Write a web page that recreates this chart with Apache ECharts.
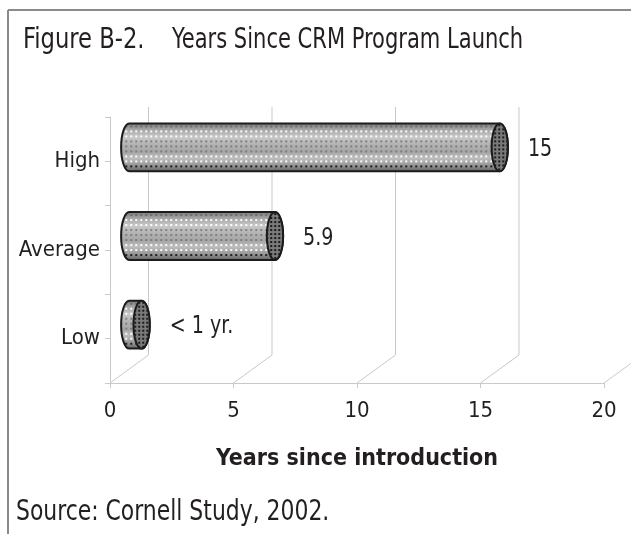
<!DOCTYPE html>
<html>
<head>
<meta charset="utf-8">
<script src="https://cdn.jsdelivr.net/npm/echarts@6/dist/echarts.min.js"></script>
<style>
  html, body { margin: 0; padding: 0; background: #ffffff; }
  #chart { width: 631px; height: 534px; }
</style>
</head>
<body>
<div id="chart"></div>
<script>
// Chart data
const categories = ['High', 'Average', 'Low'];
const years = [15, 5.9, 0.5];
const valueLabels = ['15', '5.9', '< 1 yr.'];
const tickValues = [0, 5, 10, 15, 20];

const FONT = "'DejaVu Sans Condensed', 'Liberation Sans Narrow', 'Liberation Sans', sans-serif";
const INK = '#231f20';
const GRID_LINE = '#c9c9c9';
// 3D depth of the plot box (back plane offset from the front plane)
const DEPTH_X = 38.5, DEPTH_Y = -28;
const WALL_TOP_SHIFT = -10;
// horizontal squeeze for free-standing text, the typeface is a narrow one
const NARROW = 0.85;

// Dotted texture for the cylinder body, one tile spans the full bar height
const bodyTileCache = {};
function bodyTile(h) {
  h = Math.max(4, Math.round(h));
  if (bodyTileCache[h]) return bodyTileCache[h];
  const c = document.createElement('canvas');
  c.width = 5; c.height = h;
  const g = c.getContext('2d');
  for (let y = 2; y < h - 2; y += 5) {
    const f = y / h;
    let col;
    if (f < 0.14) col = 'rgba(100,100,100,0.8)';
    else if (f < 0.34) col = 'rgba(255,255,255,0.95)';
    else if (f < 0.6) col = 'rgba(110,110,110,0.75)';
    else if (f < 0.8) col = 'rgba(255,255,255,0.95)';
    else col = 'rgba(20,20,20,0.9)';
    g.fillStyle = col;
    g.fillRect(1, y, 2, 2);
  }
  bodyTileCache[h] = c;
  return c;
}
// Dark dotted texture for the end caps
const capTile = (function () {
  const c = document.createElement('canvas');
  c.width = 4; c.height = 4;
  const g = c.getContext('2d');
  g.fillStyle = 'rgba(15,15,15,0.9)';
  g.fillRect(1, 1, 2, 2);
  return c;
})();

const bodyGradient = new echarts.graphic.LinearGradient(0, 0, 0, 1, [
  { offset: 0, color: '#7a7a7a' },
  { offset: 0.12, color: '#a3a3a3' },
  { offset: 0.28, color: '#c8c8c8' },
  { offset: 0.45, color: '#b2b2b2' },
  { offset: 0.6, color: '#a6a6a6' },
  { offset: 0.72, color: '#bebebe' },
  { offset: 0.88, color: '#959595' },
  { offset: 1, color: '#656565' }
]);

// Cylinders drawn half-way into the depth of the plot box
function renderCylinder(params, api) {
  const v = api.value(0);
  const ci = api.value(1);
  const pStart = api.coord([0, ci]);
  const pEnd = api.coord([v, ci]);
  const band = api.size([0, 1])[1];
  const r = band * 0.27;
  const rx = r * 0.34;
  const ox = DEPTH_X * 0.5, oy = DEPTH_Y * 0.5;
  const x0 = pStart[0] + ox;
  const x1 = pEnd[0] + ox;
  const cy = pStart[1] + oy;
  const L = x1 - x0;
  const H = 2 * r;
  // local coordinates: origin at left-top of the body
  const body = 'M0,0 L' + L + ',0 A' + rx + ',' + H / 2 + ' 0 0 1 ' + L + ',' + H +
    ' L0,' + H + ' A' + rx + ',' + H / 2 + ' 0 0 1 0,0 Z';
  return {
    type: 'group',
    x: x0,
    y: cy - r,
    children: [
      { type: 'path', shape: { pathData: body }, style: { fill: bodyGradient, stroke: null } },
      { type: 'path', shape: { pathData: body },
        style: { fill: { image: bodyTile(H), repeat: 'repeat' }, stroke: '#1b1b1b', lineWidth: 2 } },
      { type: 'ellipse', shape: { cx: L, cy: H / 2, rx: rx, ry: H / 2 },
        style: { fill: '#7a7a7a', stroke: null } },
      { type: 'ellipse', shape: { cx: L, cy: H / 2, rx: rx, ry: H / 2 },
        style: { fill: { image: capTile, repeat: 'repeat' }, stroke: '#1b1b1b', lineWidth: 2 } },
      { type: 'text', x: L + rx + 20, y: H / 2 + 2, scaleX: NARROW,
        style: { text: valueLabels[params.dataIndex], fill: INK, font: '25px ' + FONT,
                 verticalAlign: 'middle', align: 'left' } }
    ]
  };
}

// Floor edges and back-wall gridlines of the 3D box
function renderWall(params, api) {
  const cs = params.coordSys;
  const x = api.coord([api.value(0), 0])[0];
  const bottom = cs.y + cs.height;
  const bx = x + DEPTH_X, by = bottom + DEPTH_Y;
  const style = { stroke: GRID_LINE, lineWidth: 1 };
  return {
    type: 'group',
    children: [
      { type: 'line', shape: { x1: x, y1: bottom, x2: bx, y2: by }, style: style },
      { type: 'line', shape: { x1: bx, y1: by, x2: bx, y2: cs.y + WALL_TOP_SHIFT }, style: style }
    ]
  };
}

const chart = echarts.init(document.getElementById('chart'), null, { renderer: 'canvas' });

chart.setOption({
  animation: false,
  backgroundColor: '#ffffff',
  grid: { left: 110, right: 27, top: 117, bottom: 151, containLabel: false },
  xAxis: {
    type: 'value', min: 0, max: 20, interval: 5,
    axisLine: { show: true, lineStyle: { color: GRID_LINE, width: 1 } },
    axisTick: { show: true, length: 5, lineStyle: { color: GRID_LINE } },
    splitLine: { show: false },
    axisLabel: { fontSize: 22, color: INK, fontFamily: FONT, margin: 17 },
    name: 'Years since introduction',
    nameLocation: 'middle',
    nameGap: 65,
    nameTextStyle: { fontSize: 23, fontWeight: 'bold', color: INK, fontFamily: FONT }
  },
  yAxis: [
    {
      type: 'category', data: categories, inverse: true,
      axisLine: { show: true, lineStyle: { color: GRID_LINE, width: 1 } },
      axisTick: { show: true, length: 5, lineStyle: { color: GRID_LINE } },
      splitLine: { show: false },
      axisLabel: { fontSize: 22, color: INK, fontFamily: FONT, margin: 10 }
    },
    {
      type: 'category', data: categories, inverse: true, position: 'left',
      axisLine: { show: false },
      axisTick: { show: true, alignWithLabel: true, length: 5, lineStyle: { color: GRID_LINE } },
      axisLabel: { show: false },
      splitLine: { show: false }
    }
  ],
  graphic: [
    { type: 'line', shape: { x1: 8, y1: 10, x2: 640, y2: 10 }, style: { stroke: '#8a8a8a', lineWidth: 2 } },
    { type: 'line', shape: { x1: 8, y1: 10, x2: 8, y2: 540 }, style: { stroke: '#8a8a8a', lineWidth: 2 } },
    { type: 'text', x: 23, y: 41, scaleX: 0.9,
      style: { text: 'Figure B-2.', fill: INK, font: '28px ' + FONT, verticalAlign: 'middle' } },
    { type: 'text', x: 172, y: 41, scaleX: 0.835,
      style: { text: 'Years Since CRM Program Launch', fill: INK, font: '28px ' + FONT, verticalAlign: 'middle' } },
    { type: 'text', x: 16, y: 513, scaleX: 0.87,
      style: { text: 'Source: Cornell Study, 2002.', fill: INK,
               font: '28px ' + FONT, verticalAlign: 'middle' } }
  ],
  series: [
    {
      type: 'custom', name: 'walls', renderItem: renderWall, z: 1, silent: true,
      data: tickValues.map(function (v) { return [v, 0]; })
    },
    {
      type: 'custom', name: 'Years since introduction', renderItem: renderCylinder, z: 5,
      data: years.map(function (v, i) { return [v, i]; })
    }
  ]
});
</script>
</body>
</html>
